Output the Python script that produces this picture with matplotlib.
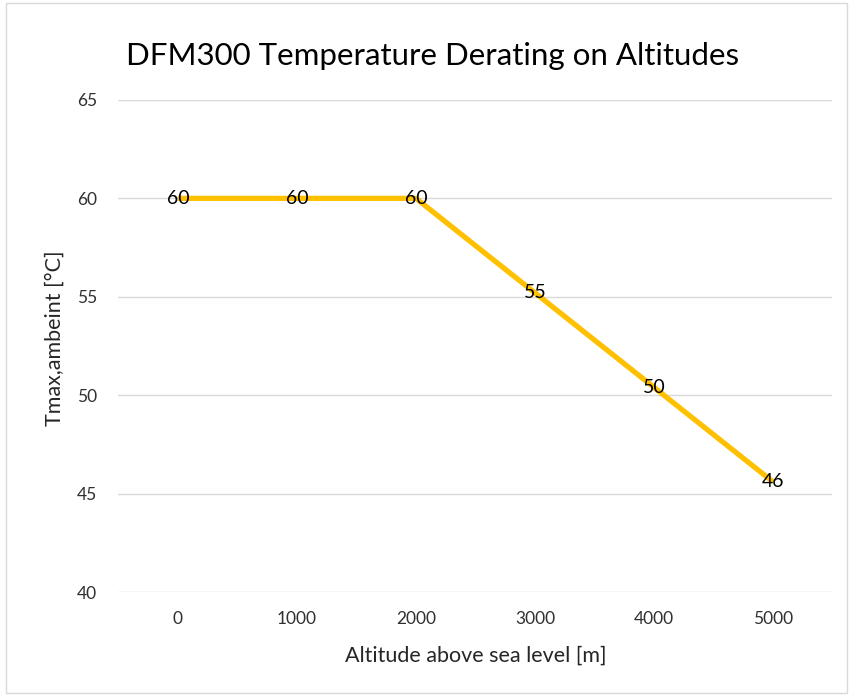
import matplotlib.pyplot as plt
from matplotlib.patches import Rectangle

# data
altitudes = ['0', '1000', '2000', '3000', '4000', '5000']
tmax = [60, 60, 60, 55.2, 50.4, 45.6]

plt.rcParams['font.family'] = ['Lato', 'DejaVu Sans']

fig = plt.figure(figsize=(8.51, 6.97), dpi=100)
ax = fig.add_axes([0.1392, 0.1506, 0.839, 0.706])

x = range(len(altitudes))
ax.plot(x, tmax, color='#FFC000', lw=3.8, solid_capstyle='butt', zorder=3)

# data labels centred on the points, like Excel
for xi, v in zip(x, tmax):
    ax.text(xi, v, f'{v:.0f}', ha='center', va='center', fontsize=14, color='black', zorder=4)

ax.set_xlim(-0.5, len(altitudes) - 0.5)
ax.set_ylim(40, 65)
ax.set_yticks(range(40, 66, 5))
ax.set_xticks(list(x))
ax.set_xticklabels(altitudes)
ax.grid(axis='y', color='#d9d9d9', lw=1)
ax.set_axisbelow(True)
for s in ax.spines.values():
    s.set_visible(False)
ax.tick_params(length=0, labelsize=12.5, colors='#303030', pad=14)
ax.tick_params(axis='y', pad=15.5)

# title is centred on the whole chart, not the plot area
fig.text(0.508, 0.920, 'DFM300 Temperature Derating on Altitudes', fontsize=22.5,
         color='black', ha='center', va='center')
ax.set_xlabel('Altitude above sea level [m]', fontsize=15.5, color='#262626')
ax.set_ylabel('Tmax,ambeint [°C]', fontsize=15.5, color='#262626')
ax.xaxis.set_label_coords(0.5, -0.11)
ax.yaxis.set_label_coords(-0.076, 0.516)

# light chart border
fig.patches.append(Rectangle((0.007, 0.006), 0.988, 0.99, transform=fig.transFigure,
                             fill=False, edgecolor='#d9d9d9', lw=1))

plt.savefig('out.png', dpi=100)
